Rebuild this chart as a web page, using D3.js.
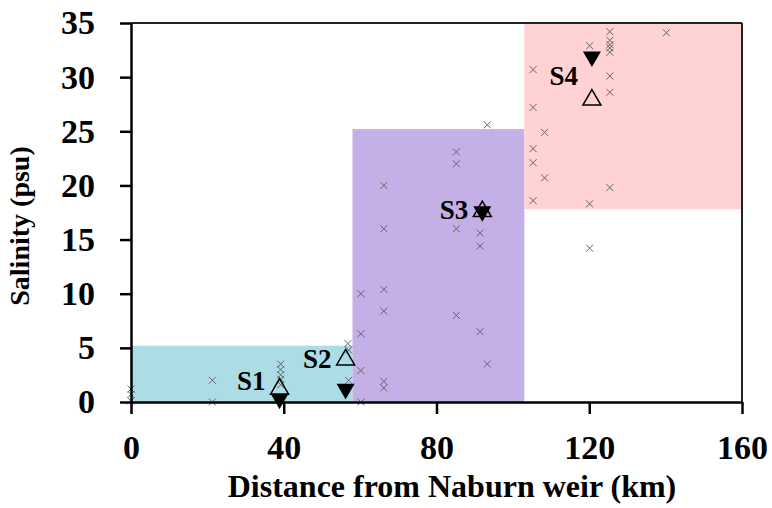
<!DOCTYPE html>
<html>
<head>
<meta charset="utf-8">
<script src="https://cdn.jsdelivr.net/npm/d3@7"></script>
<style>
  html, body { margin: 0; padding: 0; background: #fff; }
  .axis text { font-family: 'Liberation Serif', 'Times New Roman', serif; font-weight: bold; font-size: 34px; fill: #000; }
  .axis path, .axis line { stroke: #000; stroke-width: 2.5; }
  .axis-label { font-family: 'Liberation Serif', 'Times New Roman', serif; font-weight: bold; font-size: 32px; fill: #000; }
  .y-label { font-size: 28px; }
  .station-label { font-family: 'Liberation Serif', 'Times New Roman', serif; font-weight: bold; font-size: 27px; fill: #000; }
</style>
</head>
<body>
<div id="chart"></div>
<script>
  'use strict';

  var xTicks = [0, 40, 80, 120, 160];
  var yTicks = [0, 5, 10, 15, 20, 25, 30, 35];

  // Salinity zones: distance range (km) and salinity range (psu)
  var zoneNames = ['fresh', 'mixing', 'marine'];
  var zoneKm = [[0, 58], [58, 103], [103, 160]];
  var zonePsu = [[0, 5.2], [0, 25.2], [17.8, 35]];
  var zoneColors = ['#acdce6', '#c4afe7', '#ffd2d4'];

  // Individual samples (km, psu)
  var sampleKm = [
    0, 0, 0,
    21.3, 21.3,
    39.2, 39.2, 39.2, 39.2, 39.2,
    56.8, 57, 57,
    60.2, 60.2, 60.2, 60.2,
    66.2, 66.2, 66.2, 66.2, 66.2, 66.2,
    85.2, 85.2, 85.2, 85.2,
    91.4, 91.4, 91.4,
    93.3, 93.3,
    105.3, 105.3, 105.3, 105.3, 105.3,
    108.3, 108.3,
    120.1, 120.1, 120.1,
    125.4, 125.4, 125.4, 125.4, 125.4, 125.4, 125.4, 125.4,
    140.2
  ];
  var samplePsu = [
    1.2, 0.7, 0.1,
    2.0, 0.0,
    3.5, 3.0, 2.5, 2.1, 1.6,
    5.4, 4.8, 2.0,
    10.0, 6.3, 2.9, 0.0,
    20.0, 16.0, 10.4, 8.4, 1.9, 1.3,
    23.1, 22.0, 16.0, 8.0,
    15.6, 14.4, 6.5,
    25.6, 3.5,
    30.7, 27.2, 23.4, 22.1, 18.6,
    24.9, 20.7,
    32.9, 18.3, 14.2,
    34.2, 33.4, 33.0, 32.7, 32.3, 30.1, 28.6, 19.8,
    34.1
  ];

  // Stations: filled = down triangle, open = up triangle
  var stations = ['S1', 'S2', 'S3', 'S4'];
  var stationKm = [38.9, 56.2, 92.0, 120.7];
  var filledPsu = [0.3, 1.2, 17.6, 31.9];
  var openPsu = [1.2, 3.9, 17.6, 27.9];
  var labelPsu = [1.1, 3.1, 16.9, 29.3];

  var margin = { top: 23, right: 30, bottom: 106, left: 131 };
  var totalWidth = 772;
  var totalHeight = 508;
  var width = totalWidth - margin.left - margin.right;
  var height = totalHeight - margin.top - margin.bottom;

  var xScale = d3.scaleLinear().domain([0, 160]).range([0, width]);
  var yScale = d3.scaleLinear().domain([0, 35]).range([height, 0]);

  var svg = d3.select('#chart')
    .append('svg')
    .attr('width', totalWidth)
    .attr('height', totalHeight);

  var g = svg.append('g')
    .attr('transform', 'translate(' + margin.left + ',' + margin.top + ')');

  g.selectAll('.zone')
    .data(zoneNames)
    .enter().append('rect')
    .attr('class', 'zone')
    .attr('x', function(d, i) { return xScale(zoneKm[i][0]); })
    .attr('width', function(d, i) { return xScale(zoneKm[i][1]) - xScale(zoneKm[i][0]); })
    .attr('y', function(d, i) { return yScale(zonePsu[i][1]); })
    .attr('height', function(d, i) { return yScale(zonePsu[i][0]) - yScale(zonePsu[i][1]); })
    .attr('fill', function(d, i) { return zoneColors[i]; });

  // Frame on top and right.
  g.append('line')
    .attr('x1', 0).attr('x2', width)
    .attr('y1', 0).attr('y2', 0)
    .attr('stroke', '#222').attr('stroke-width', 2);
  g.append('line')
    .attr('x1', width).attr('x2', width)
    .attr('y1', 0).attr('y2', height)
    .attr('stroke', '#222').attr('stroke-width', 2);

  g.selectAll('.sample')
    .data(sampleKm)
    .enter().append('path')
    .attr('class', 'sample')
    .attr('d', 'M-3.5,-3.5L3.5,3.5M3.5,-3.5L-3.5,3.5')
    .attr('transform', function(d, i) {
      return 'translate(' + xScale(d) + ',' + yScale(samplePsu[i]) + ')';
    })
    .attr('stroke', '#666')
    .attr('stroke-width', 1)
    .attr('fill', 'none');

  var triangle = d3.symbol().type(d3.symbolTriangle).size(140);

  g.selectAll('.filled')
    .data(stations)
    .enter().append('path')
    .attr('class', 'filled')
    .attr('d', triangle)
    .attr('transform', function(d, i) {
      return 'translate(' + xScale(stationKm[i]) + ',' + yScale(filledPsu[i]) + ') rotate(180)';
    })
    .attr('fill', '#000');

  g.selectAll('.open')
    .data(stations)
    .enter().append('path')
    .attr('class', 'open')
    .attr('d', triangle)
    .attr('transform', function(d, i) {
      return 'translate(' + xScale(stationKm[i]) + ',' + yScale(openPsu[i]) + ')';
    })
    .attr('fill', 'none')
    .attr('stroke', '#000')
    .attr('stroke-width', 1.5);

  g.selectAll('.station-label')
    .data(stations)
    .enter().append('text')
    .attr('class', 'station-label')
    .attr('text-anchor', 'end')
    .attr('x', function(d, i) { return xScale(stationKm[i]) - 14; })
    .attr('y', function(d, i) { return yScale(labelPsu[i]); })
    .text(function(d) { return d; });

  var xAxis = d3.axisBottom(xScale)
    .tickValues(xTicks)
    .tickSize(12)
    .tickSizeOuter(0)
    .tickPadding(21);

  var yAxis = d3.axisLeft(yScale)
    .tickValues(yTicks)
    .tickSize(11)
    .tickSizeOuter(0)
    .tickPadding(25);

  g.append('g')
    .attr('class', 'x axis')
    .attr('transform', 'translate(0,' + height + ')')
    .call(xAxis);

  g.append('g')
    .attr('class', 'y axis')
    .call(yAxis);

  // Axis titles.
  svg.append('text')
    .attr('class', 'axis-label')
    .attr('text-anchor', 'middle')
    .attr('x', 452)
    .attr('y', 497)
    .text('Distance from Naburn weir (km)');

  svg.append('text')
    .attr('class', 'axis-label y-label')
    .attr('text-anchor', 'middle')
    .attr('transform', 'translate(29,226) rotate(-90)')
    .text('Salinity (psu)');
</script>
</body>
</html>
